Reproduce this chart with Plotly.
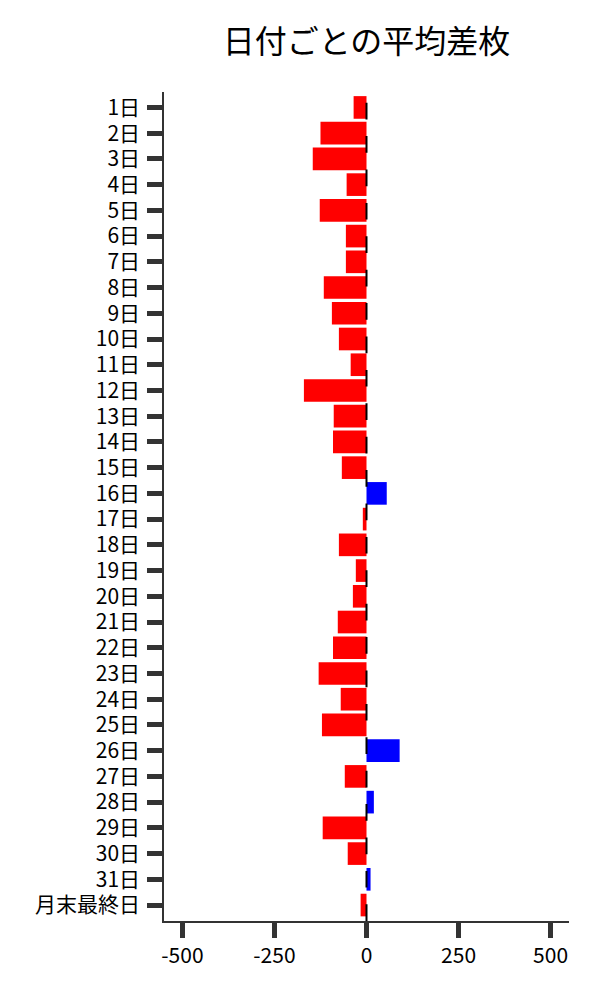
import plotly.graph_objects as go

# カテゴリ（日付）と平均差枚
days = [f"{d}日" for d in range(1, 32)] + ["月末最終日"]
avg_diff = [-35, -125, -146, -54, -127, -56, -56, -116, -94, -75, -43, -170,
            -89, -91, -67, 55, -10, -75, -29, -37, -78, -91, -130, -70,
            -121, 90, -59, 20, -119, -51, 11, -16]
x_ticks = [-500, -250, 0, 250, 500]
x_ticktext = ["-500", "-250", "0", "250", "500"]

bar_colors = ["#0000FF" if v > 0 else "#FF0000" for v in avg_diff]

font_family = "Noto Sans CJK JP"

fig = go.Figure()

fig.add_trace(go.Bar(
    x=avg_diff,
    y=days,
    orientation="h",
    marker=dict(color=bar_colors, line=dict(width=0)),
    showlegend=False,
))

# zero line (dashed, above the bars)
fig.add_vline(x=0, line_color="black", line_width=2, line_dash="16.7px,16.7px", layer="above")

fig.update_layout(
    width=600, height=1000,
    margin=dict(l=156, r=39, t=84, b=87),
    paper_bgcolor="white",
    plot_bgcolor="white",
    bargap=0.12,
    font=dict(family=font_family, color="black", size=21),
    title=dict(
        text="日付ごとの平均差枚",
        x=0.5, xref="paper", xanchor="center",
        y=1 - 34 / 1000, yref="container", yanchor="middle",
        font=dict(size=32, color="black", family=font_family),
    ),
)

fig.update_xaxes(
    range=[-550, 550],
    tickvals=x_ticks, ticktext=x_ticktext,
    showgrid=False, zeroline=False,
    showline=True, linecolor="#333", linewidth=1.5,
    ticks="outside", ticklen=15, tickwidth=5, tickcolor="#333",
    tickfont=dict(size=21, color="black"),
)
fig.update_yaxes(
    categoryorder="array", categoryarray=days,
    range=[31.62, -0.6],
    showgrid=False, zeroline=False,
    showline=True, linecolor="#333", linewidth=1.5,
    ticks="outside", ticklen=15, tickwidth=5, tickcolor="#333",
    ticklabelstandoff=3,
    tickfont=dict(size=21, color="black"),
)

fig.write_html("out.html")
